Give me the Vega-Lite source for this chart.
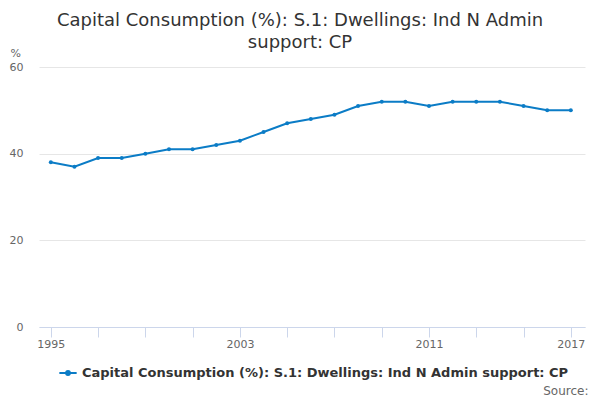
{
  "$schema": "https://vega.github.io/schema/vega-lite/v6.json",
  "autosize": "none",
  "width": 546,
  "height": 260,
  "padding": {"left": 39, "top": 67, "right": 15, "bottom": 73},
  "background": "white",
  "title": {
    "text": ["Capital Consumption (%): S.1: Dwellings: Ind N Admin", "support: CP"],
    "font": "DejaVu Sans",
    "fontSize": 18,
    "fontWeight": "normal",
    "color": "#333333",
    "anchor": "middle",
    "dx": -12,
    "offset": -5,
    "lineHeight": 22
  },
  "data": {
    "values": [
      {"year": 1995, "value": 38, "series": "Capital Consumption (%): S.1: Dwellings: Ind N Admin support: CP"},
      {"year": 1996, "value": 37, "series": "Capital Consumption (%): S.1: Dwellings: Ind N Admin support: CP"},
      {"year": 1997, "value": 39, "series": "Capital Consumption (%): S.1: Dwellings: Ind N Admin support: CP"},
      {"year": 1998, "value": 39, "series": "Capital Consumption (%): S.1: Dwellings: Ind N Admin support: CP"},
      {"year": 1999, "value": 40, "series": "Capital Consumption (%): S.1: Dwellings: Ind N Admin support: CP"},
      {"year": 2000, "value": 41, "series": "Capital Consumption (%): S.1: Dwellings: Ind N Admin support: CP"},
      {"year": 2001, "value": 41, "series": "Capital Consumption (%): S.1: Dwellings: Ind N Admin support: CP"},
      {"year": 2002, "value": 42, "series": "Capital Consumption (%): S.1: Dwellings: Ind N Admin support: CP"},
      {"year": 2003, "value": 43, "series": "Capital Consumption (%): S.1: Dwellings: Ind N Admin support: CP"},
      {"year": 2004, "value": 45, "series": "Capital Consumption (%): S.1: Dwellings: Ind N Admin support: CP"},
      {"year": 2005, "value": 47, "series": "Capital Consumption (%): S.1: Dwellings: Ind N Admin support: CP"},
      {"year": 2006, "value": 48, "series": "Capital Consumption (%): S.1: Dwellings: Ind N Admin support: CP"},
      {"year": 2007, "value": 49, "series": "Capital Consumption (%): S.1: Dwellings: Ind N Admin support: CP"},
      {"year": 2008, "value": 51, "series": "Capital Consumption (%): S.1: Dwellings: Ind N Admin support: CP"},
      {"year": 2009, "value": 52, "series": "Capital Consumption (%): S.1: Dwellings: Ind N Admin support: CP"},
      {"year": 2010, "value": 52, "series": "Capital Consumption (%): S.1: Dwellings: Ind N Admin support: CP"},
      {"year": 2011, "value": 51, "series": "Capital Consumption (%): S.1: Dwellings: Ind N Admin support: CP"},
      {"year": 2012, "value": 52, "series": "Capital Consumption (%): S.1: Dwellings: Ind N Admin support: CP"},
      {"year": 2013, "value": 52, "series": "Capital Consumption (%): S.1: Dwellings: Ind N Admin support: CP"},
      {"year": 2014, "value": 52, "series": "Capital Consumption (%): S.1: Dwellings: Ind N Admin support: CP"},
      {"year": 2015, "value": 51, "series": "Capital Consumption (%): S.1: Dwellings: Ind N Admin support: CP"},
      {"year": 2016, "value": 50, "series": "Capital Consumption (%): S.1: Dwellings: Ind N Admin support: CP"},
      {"year": 2017, "value": 50, "series": "Capital Consumption (%): S.1: Dwellings: Ind N Admin support: CP"}
    ]
  },
  "mark": {
    "type": "line",
    "strokeWidth": 2,
    "point": {"filled": true, "size": 16}
  },
  "encoding": {
    "x": {
      "field": "year",
      "type": "quantitative",
      "scale": {"domain": [1994.5, 2017.6], "nice": false, "zero": false},
      "axis": {
        "values": [1995, 1997, 1999, 2001, 2003, 2005, 2007, 2009, 2011, 2013, 2015, 2017],
        "labelExpr": "indexof([1995, 2003, 2011, 2017], datum.value) >= 0 ? datum.value : ''",
        "format": "d",
        "grid": false,
        "domainColor": "#ccd6eb",
        "tickColor": "#ccd6eb",
        "tickSize": 10,
        "labelFont": "DejaVu Sans",
        "labelFontSize": 11,
        "labelColor": "#666666",
        "labelPadding": 1,
        "labelFlush": false,
        "labelOverlap": false,
        "title": "Source:",
        "titleFont": "DejaVu Sans",
        "titleFontSize": 12,
        "titleFontWeight": "normal",
        "titleColor": "#666666",
        "titleAlign": "right",
        "titleAnchor": null,
        "titleX": 549,
        "titleY": 67,
        "titleBaseline": "alphabetic"
      }
    },
    "y": {
      "field": "value",
      "type": "quantitative",
      "scale": {"domain": [0, 60], "nice": false},
      "axis": {
        "values": [0, 20, 40, 60],
        "domain": false,
        "ticks": false,
        "gridColor": "#e6e6e6",
        "labelFont": "DejaVu Sans",
        "labelFontSize": 11,
        "labelColor": "#666666",
        "labelPadding": 16,
        "title": "%",
        "titleFont": "DejaVu Sans",
        "titleFontSize": 11,
        "titleFontWeight": "normal",
        "titleColor": "#666666",
        "titleAngle": 0,
        "titleAlign": "left",
        "titleAnchor": null,
        "titleX": -29,
        "titleY": -11,
        "titleBaseline": "alphabetic"
      }
    },
    "color": {
      "field": "series",
      "type": "nominal",
      "scale": {"range": ["#0b7cc6"]},
      "legend": {
        "title": null,
        "orient": "none",
        "legendX": 19,
        "legendY": 296,
        "symbolType": "M -1 0 L 1 0 M -0.22 0 A 0.22 0.22 0 1 0 0.22 0 A 0.22 0.22 0 1 0 -0.22 0",
        "symbolSize": 300,
        "symbolStrokeWidth": 2,
        "symbolFillColor": "#0b7cc6",
        "labelFont": "DejaVu Sans",
        "labelFontSize": 13,
        "labelFontWeight": "bold",
        "labelColor": "#333333",
        "labelLimit": 600,
        "labelOffset": 4
      }
    }
  },
  "config": {
    "view": {"stroke": null}
  }
}
